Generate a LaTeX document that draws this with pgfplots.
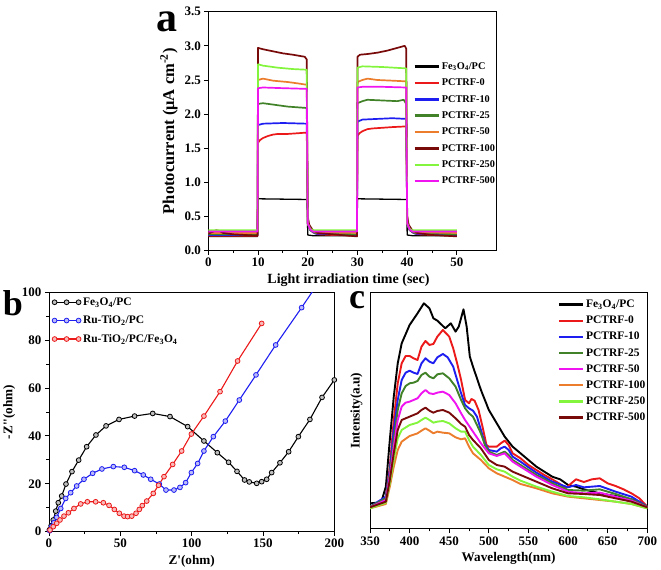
\documentclass[border=0pt]{standalone}
\usepackage{fontspec}
\setmainfont{Liberation Serif}
\usepackage{pgfplots}
\pgfplotsset{compat=1.18}
\definecolor{cred}{RGB}{235,25,25}
\definecolor{cblue}{RGB}{30,30,240}
\definecolor{cdgreen}{RGB}{65,130,40}
\definecolor{corange}{RGB}{235,125,45}
\definecolor{cmaroon}{RGB}{120,10,10}
\definecolor{clgreen}{RGB}{130,245,60}
\definecolor{cmag}{RGB}{240,20,240}
\pgfplotsset{
  mystyle/.style={
    scale only axis,
    axis line style={line width=1pt},
    every tick/.style={line width=0.9pt, black},
    tick align=outside,
    tick pos=left,
    major tick length=4pt,
    minor tick length=2.5pt,
    minor x tick num=1,
    tick label style={font=\bfseries\fontsize{13}{15}\selectfont},
    label style={font=\bfseries\fontsize{13.2}{15}\selectfont},
    /pgf/number format/assume math mode=true,
    legend cell align=left,
    legend style={draw=none, fill=none},
  },
}
\begin{document}
\begin{tikzpicture}
\path[use as bounding box] (0pt,0pt) rectangle (661pt,570pt);

% ---------------- panel a
\begin{axis}[mystyle,
  legend image code/.code={\draw[#1, line width=2.4pt] (0pt,0pt) -- (24pt,0pt);},
  at={(208.3pt,319.3pt)}, anchor=south west,
  width=288.4pt, height=239pt,
  xmin=0, xmax=58, ymin=0, ymax=3.5,
  xtick={0,10,20,30,40,50},
  ytick={0,0.5,1,1.5,2,2.5,3,3.5},
  yticklabel style={/pgf/number format/.cd, fixed, fixed zerofill, precision=1},
  xlabel={Light irradiation time (sec)},
  ylabel={Photocurrent (μA cm\textsuperscript{-2})},
  xlabel style={font=\bfseries\fontsize{14}{16}\selectfont, xshift=-4pt},
  ylabel style={font=\bfseries\fontsize{16.5}{18}\selectfont},
  legend style={at={(rel axis cs:0.70,0.805)}, anchor=north west,
    font=\bfseries\fontsize{10.3}{12}\selectfont, row sep=4pt},
  every axis plot/.append style={line width=1.7pt, line join=round},
]
\addplot[black, line width=1.3pt] coordinates {(0,0.21)(9.9,0.21)(10,0.76)(15,0.755)(19.9,0.75)(20,0.23)(21,0.22)(29.9,0.22)(30,0.76)(35,0.755)(39.9,0.75)(40,0.23)(41,0.22)(50,0.22)};
\addlegendentry{Fe\textsubscript{3}O\textsubscript{4}/PC}
\addplot[cred] coordinates {(0,0.22)(9.9,0.22)(10,1.58)(10.4,1.62)(11,1.65)(12,1.68)(13,1.70)(14,1.71)(16,1.71)(18,1.72)(19.8,1.73)(20,0.42)(20.4,0.32)(21,0.27)(22,0.24)(25,0.23)(29.9,0.22)(30,1.68)(30.4,1.72)(31,1.75)(32,1.78)(33,1.79)(35,1.80)(37,1.81)(39.8,1.82)(40,0.42)(40.4,0.32)(41,0.27)(42,0.24)(50,0.22)};
\addlegendentry{PCTRF-0}
\addplot[cblue] coordinates {(0,0.23)(9.9,0.23)(10,1.84)(11,1.86)(15,1.87)(19.8,1.86)(20,0.4)(20.5,0.3)(21.5,0.25)(29.9,0.23)(30,1.89)(31,1.92)(34,1.93)(37,1.94)(39.8,1.93)(40,0.4)(40.5,0.3)(41.5,0.25)(50,0.23)};
\addlegendentry{PCTRF-10}
\addplot[cdgreen] coordinates {(0,0.24)(9.9,0.24)(10,2.15)(11,2.16)(13,2.14)(16,2.11)(19.8,2.09)(20,0.4)(20.5,0.3)(21.5,0.26)(29.9,0.24)(30,2.16)(31,2.19)(32,2.21)(35,2.20)(38,2.19)(39.3,2.21)(39.8,2.15)(40,0.4)(40.5,0.3)(41.5,0.26)(50,0.24)};
\addlegendentry{PCTRF-25}
\addplot[corange] coordinates {(0,0.26)(9.9,0.26)(10,2.50)(11,2.52)(13,2.49)(16,2.47)(18,2.45)(19.8,2.43)(20,0.4)(20.5,0.32)(21.5,0.27)(29.9,0.26)(30,2.47)(31,2.50)(32,2.52)(34,2.50)(37,2.49)(39.8,2.48)(40,0.4)(40.5,0.32)(41.5,0.27)(50,0.26)};
\addlegendentry{PCTRF-50}
\addplot[cmaroon] coordinates {(0,0.25)(1,0.28)(1.6,0.30)(2.2,0.29)(3,0.26)(5,0.24)(9.9,0.22)(10,2.97)(11,2.95)(13,2.92)(15,2.89)(17,2.87)(19.4,2.84)(19.8,2.80)(20,0.5)(20.3,0.38)(21,0.30)(22,0.26)(25,0.24)(29.9,0.21)(30,2.84)(30.5,2.87)(32,2.88)(34,2.90)(36,2.93)(37.5,2.96)(38.5,2.98)(39.5,3.00)(39.8,2.96)(40,0.5)(40.3,0.38)(41,0.30)(42,0.26)(45,0.23)(50,0.21)};
\addlegendentry{PCTRF-100}
\addplot[clgreen] coordinates {(0,0.30)(9.9,0.30)(10,2.73)(11,2.71)(14,2.68)(17,2.66)(19.8,2.65)(20,0.4)(20.5,0.32)(21,0.30)(29.9,0.30)(30,2.68)(31,2.70)(35,2.69)(39.8,2.67)(40,0.4)(40.5,0.32)(41,0.30)(50,0.30)};
\addlegendentry{PCTRF-250}
\addplot[cmag] coordinates {(0,0.28)(9.9,0.28)(10,2.38)(11,2.39)(15,2.38)(19.8,2.37)(20,0.4)(20.5,0.31)(21,0.28)(29.9,0.28)(30,2.39)(31,2.40)(35,2.40)(39.8,2.39)(40,0.4)(40.5,0.31)(41,0.28)(50,0.28)};
\addlegendentry{PCTRF-500}
\end{axis}

% ---------------- panel b
\begin{axis}[mystyle,
  at={(49pt,38.3pt)}, anchor=south west,
  width=285.3pt, height=239.4pt,
  xmin=0, xmax=200, ymin=0, ymax=100,
  xtick={0,50,100,150,200},
  ytick={0,20,40,60,80,100},
  minor y tick num=1,
  xlabel={Z\textquotesingle(ohm)},
  ylabel={-Z\textquotesingle\textquotesingle(ohm)},
  legend style={at={(rel axis cs:0.0,0.995)}, anchor=north west,
    font=\bfseries\fontsize{11.5}{13}\selectfont, row sep=5pt},
  legend image code/.code={\draw[#1] plot coordinates {(0pt,0pt) (12pt,0pt) (24pt,0pt)};},
  every axis plot/.append style={line width=1.1pt, mark size=2.4pt},
]
\addplot[black, mark=*, mark options={fill=black!25, draw=black, line width=0.8pt}] coordinates {(0.3,0.8)(1.5,2.5)(3,4.9)(4.7,8.6)(6.5,12.1)(8.9,14.9)(11.9,19.9)(16.1,25.1)(20.8,29.9)(26.4,35.5)(32.9,40.4)(40.0,44.2)(49.1,46.9)(60.0,48.3)(72.7,49.4)(84.8,48.1)(97.2,43.9)(108.6,37.9)(118.0,33.0)(125.9,29.0)(131.8,25.2)(137.1,21.6)(140.4,20.8)(145.6,20.2)(149.1,20.9)(152.6,21.9)(156.1,24.7)(161.9,28.8)(168.0,33.4)(174.8,39.7)(182.9,46.9)(191.4,56.1)(200,63.4)};
\addlegendentry{Fe\textsubscript{3}O\textsubscript{4}/PC}
\addplot[cblue, mark=*, mark options={fill=cblue!30, draw=cblue, line width=0.8pt}] coordinates {(0.5,0.4)(1.9,2.1)(3.5,3.8)(5.4,6.0)(8.2,9.7)(11.7,13.9)(15.2,16.3)(19.4,19.1)(24.5,21.9)(30.6,24.4)(37.1,26.2)(45.1,27.2)(52.8,26.9)(60.0,25.5)(66.1,23.7)(71.3,21.9)(77.3,19.9)(82.0,17.4)(87.6,17.4)(91.8,18.5)(95.8,20.5)(99.8,24.7)(104.2,28.5)(108.6,33.7)(115.2,39.7)(123.6,46.2)(133.4,55.0)(145.1,65.5)(158.9,78.0)(177.1,93.6)(186,101.5)};
\addlegendentry{Ru-TiO\textsubscript{2}/PC}
\addplot[cred, mark=*, mark options={fill=cred!30, draw=cred, line width=0.8pt}] coordinates {(0.7,0.7)(3.0,2.1)(5.4,3.5)(7.7,4.9)(10.5,6.5)(13.6,7.9)(17.5,9.7)(22.2,11.6)(26.9,12.5)(32.7,12.5)(38.1,12.1)(42.1,11.0)(45.8,9.3)(49.3,7.7)(52.6,6.5)(55.1,6.3)(58.0,6.5)(61.0,7.7)(63.3,9.3)(65.4,10.9)(68.5,12.8)(73.1,16.0)(76.8,19.4)(80.6,23.0)(86.7,28.1)(93.0,33.7)(99.8,40.8)(108.6,48.3)(119.9,58.5)(132.2,71.3)(149.1,87.0)};
\addlegendentry{Ru-TiO\textsubscript{2}/PC/Fe\textsubscript{3}O\textsubscript{4}}
\end{axis}

% ---------------- panel c
\begin{axis}[mystyle,
  legend image code/.code={\draw[#1, line width=2.4pt] (0pt,0pt) -- (24pt,0pt);},
  at={(370pt,41pt)}, anchor=south west,
  width=277.3pt, height=236.7pt,
  xmin=350, xmax=700, ymin=0, ymax=710,
  xtick={350,400,450,500,550,600,650,700},
  ytick=\empty,
  xlabel={Wavelength(nm)},
  ylabel={Intensity(a.u)},
  legend style={at={(rel axis cs:0.665,0.985)}, anchor=north west,
    font=\bfseries\fontsize{11.5}{13}\selectfont, row sep=3pt},
  every axis plot/.append style={line width=1.9pt, line join=round},
]
\addplot[black] table {
350 77
360 79
365 87
370 127
375 267
380 397
385 497
390 557
400 612
410 647
418 677
425 662
430 632
435 625
445 602
452 617
458 592
462 607
468 659
472 607
476 517
480 487
490 417
500 357
510 317
520 277
530 247
540 227
550 207
560 187
570 172
580 157
590 149
600 132
610 127
620 119
640 107
660 99
680 89
690 82
700 65
};
\addlegendentry{Fe\textsubscript{3}O\textsubscript{4}/PC}
\addplot[cred] table {
350 67
360 69
370 97
375 187
380 327
385 437
390 497
395 519
400 519
405 512
410 507
415 547
420 564
425 552
430 555
435 577
442 597
450 577
455 542
460 497
465 447
470 387
475 377
478 390
482 385
487 357
492 307
497 252
500 247
505 247
510 247
515 257
520 265
525 252
530 227
540 212
550 192
560 177
570 162
580 149
590 135
597 122
603 135
610 149
620 141
630 149
640 152
650 137
660 129
670 119
680 107
690 92
700 67
};
\addlegendentry{PCTRF-0}
\addplot[cblue] table {
350 67
370 97
375 177
380 297
385 387
390 447
395 469
400 475
405 469
410 465
415 497
420 512
425 502
430 497
435 515
442 525
448 515
455 487
460 447
465 407
470 372
475 362
480 355
485 337
490 297
495 257
500 237
510 232
515 242
520 247
525 237
530 217
540 202
550 185
560 169
580 142
600 125
610 132
620 125
640 129
660 112
680 97
700 67
};
\addlegendentry{PCTRF-10}
\addplot[cdgreen] table {
350 67
370 92
375 167
380 267
385 357
390 407
395 429
400 437
405 439
410 444
415 462
420 469
425 457
430 452
435 464
442 467
450 452
458 427
465 387
470 362
475 347
480 337
490 287
495 252
500 232
510 222
520 232
525 222
530 207
540 192
560 162
580 137
600 117
620 115
640 119
660 105
680 89
700 67
};
\addlegendentry{PCTRF-25}
\addplot[cmag] table {
350 65
370 87
375 157
380 247
385 327
390 367
395 379
400 382
410 392
415 407
420 417
425 407
430 405
435 409
442 412
450 402
458 377
465 347
470 327
480 292
490 257
500 227
510 219
520 227
530 202
540 187
560 157
580 132
600 112
620 107
640 109
660 97
680 85
700 65
};
\addlegendentry{PCTRF-50}
\addplot[corange] table {
350 62
370 75
375 127
380 187
385 237
390 262
400 279
410 287
415 295
420 302
425 295
430 287
435 292
442 289
450 287
458 275
465 269
470 272
475 247
480 227
490 207
500 182
510 167
520 157
530 147
540 135
560 122
580 107
600 97
620 92
640 87
660 82
680 75
700 62
};
\addlegendentry{PCTRF-100}
\addplot[clgreen] table {
350 62
370 79
375 137
380 207
385 272
390 297
400 312
410 319
415 327
420 334
425 327
430 319
435 322
442 324
450 317
458 302
465 292
470 292
475 267
480 247
490 222
500 192
510 179
520 172
530 157
540 145
560 127
580 112
600 99
620 95
640 89
660 82
680 75
700 62
};
\addlegendentry{PCTRF-250}
\addplot[cmaroon] table {
350 65
370 82
375 147
380 227
385 297
390 327
400 337
410 347
415 357
420 364
425 355
430 349
435 354
442 357
450 349
458 332
465 315
470 307
475 282
480 267
490 242
500 207
510 192
520 187
530 172
540 162
560 142
580 122
600 107
620 105
640 102
660 92
680 82
700 65
};
\addlegendentry{PCTRF-500}
\end{axis}

\node[inner sep=0pt, font=\bfseries\fontsize{42}{46}\selectfont] at (167pt,548pt) {a};
\node[inner sep=0pt, font=\bfseries\fontsize{36}{40}\selectfont] at (13pt,267pt) {b};
\node[inner sep=0pt, font=\bfseries\fontsize{36}{40}\selectfont] at (357pt,270pt) {c};
\end{tikzpicture}
\end{document}
